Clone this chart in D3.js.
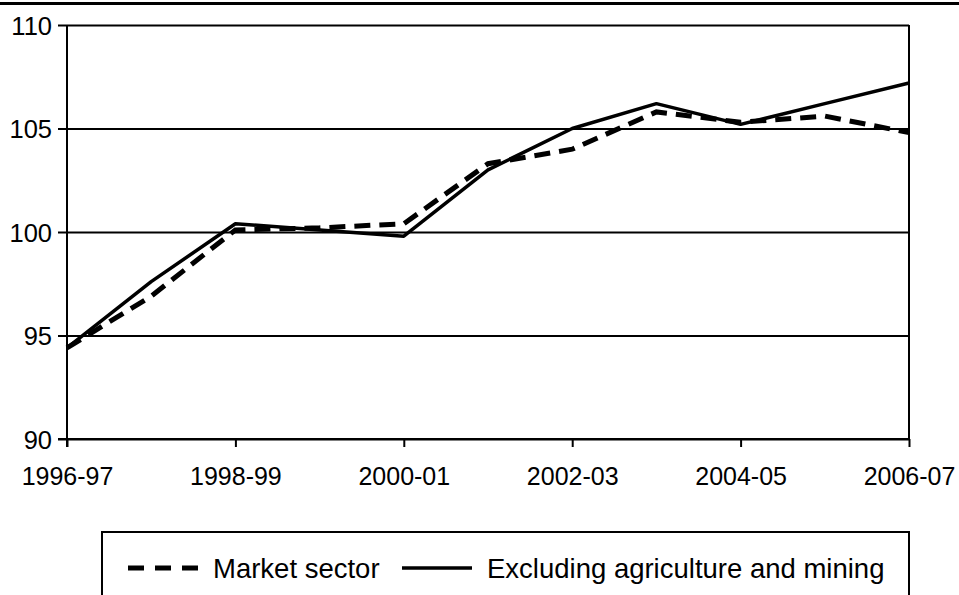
<!DOCTYPE html>
<html>
<head>
<meta charset="utf-8">
<script src="https://cdn.jsdelivr.net/npm/d3@7"></script>
<style>
  body { margin: 0; background: #fff; }
  svg { display: block; }
  svg text { font-family: "Liberation Sans", Arial, sans-serif; }
</style>
</head>
<body>
<svg id="chart"></svg>
<script>
// financial years on the category axis
const years = ['1996-97', '1997-98', '1998-99', '1999-00', '2000-01', '2001-02',
               '2002-03', '2003-04', '2004-05', '2005-06', '2006-07']
const marketSector = [94.4, 96.9, 100.1, 100.2, 100.4, 103.3, 104.0, 105.8, 105.3, 105.6, 104.8]
const exclAgMining = [94.4, 97.6, 100.4, 100.1, 99.8, 103.0, 105.0, 106.2, 105.2, 106.2, 107.2]
const yTicks = [90, 95, 100, 105, 110]
const xTickYears = ['1996-97', '1998-99', '2000-01', '2002-03', '2004-05', '2006-07']
const seriesNames = ['Market sector', 'Excluding agriculture and mining']

const width = 959, height = 595
const margin = {top: 25, right: 50, bottom: 156, left: 67}
const plotW = width - margin.left - margin.right
const plotH = height - margin.top - margin.bottom
const font = '"Liberation Sans", Arial, sans-serif'

const svg = d3.select('#chart')
  .attr('width', width)
  .attr('height', height)

// thick rule across the top of the figure
svg.append('line')
  .attr('x1', 0).attr('x2', width)
  .attr('y1', 3.5).attr('y2', 3.5)
  .attr('stroke', '#000').attr('stroke-width', 3)

const x = d3.scalePoint()
  .domain(years)
  .range([0, plotW])

const y = d3.scaleLinear()
  .domain([90, 110])
  .range([plotH, 0])

const g = svg.append('g')
  .attr('transform', `translate(${margin.left}, ${margin.top})`)

// y axis + gridlines
const yAxis = g.append('g')
  .call(d3.axisLeft(y).tickValues(yTicks).tickSize(0).tickPadding(15).tickFormat(d3.format('d')))
  .attr('font-family', font)
yAxis.select('.domain').remove()
yAxis.selectAll('.tick line')
  .attr('x1', -9).attr('x2', plotW)
  .attr('stroke', '#000').attr('stroke-width', 2)
yAxis.selectAll('.tick text')
  .attr('font-size', 25.5)
  .attr('fill', '#000')
  .attr('dy', '0.36em')

// left and right frame
g.append('line')
  .attr('x1', 0).attr('x2', 0).attr('y1', 0).attr('y2', plotH + 8)
  .attr('stroke', '#000').attr('stroke-width', 2)
g.append('line')
  .attr('x1', plotW).attr('x2', plotW).attr('y1', 0).attr('y2', plotH)
  .attr('stroke', '#000').attr('stroke-width', 2)

// x axis
const xAxis = g.append('g')
  .attr('transform', `translate(0, ${plotH})`)
  .call(d3.axisBottom(x).tickValues(xTickYears).tickSize(8).tickSizeOuter(0).tickPadding(30))
  .attr('font-family', font)
xAxis.select('.domain')
  .attr('d', `M-9,0H${plotW}`)
  .attr('stroke', '#000').attr('stroke-width', 2)
xAxis.selectAll('.tick line')
  .attr('stroke', '#000').attr('stroke-width', 2)
xAxis.selectAll('.tick text')
  .attr('font-size', 25)
  .attr('fill', '#000')
  .attr('dy', '0.3em')

const line = d3.line()
  .x((d, i) => x(years[i]))
  .y(d => y(d))

g.append('path')
  .datum(exclAgMining)
  .attr('d', line)
  .attr('fill', 'none')
  .attr('stroke', '#000')
  .attr('stroke-width', 3.5)
  .attr('stroke-linejoin', 'round')

g.append('path')
  .datum(marketSector)
  .attr('d', line)
  .attr('fill', 'none')
  .attr('stroke', '#000')
  .attr('stroke-width', 5)
  .attr('stroke-dasharray', '16,9')

// legend
const legend = svg.append('g')
legend.append('rect')
  .attr('x', 102).attr('y', 532)
  .attr('width', 807).attr('height', 80)
  .attr('fill', '#fff').attr('stroke', '#000').attr('stroke-width', 2)

const legendItems = [
  {name: seriesNames[0], x: 128, dash: '16,11', w: 5},
  {name: seriesNames[1], x: 402, dash: null, w: 3.5}
]
const item = legend.selectAll('.item')
  .data(legendItems)
  .enter().append('g')
    .attr('class', 'item')
    .attr('transform', d => `translate(${d.x}, 568)`)
item.append('line')
  .attr('x1', 0).attr('x2', 70)
  .attr('stroke', '#000')
  .attr('stroke-width', d => d.w)
  .attr('stroke-dasharray', d => d.dash)
item.append('text')
  .attr('x', 85)
  .attr('dy', '0.36em')
  .attr('font-size', 27.5)
  .text(d => d.name)
</script>
</body>
</html>
